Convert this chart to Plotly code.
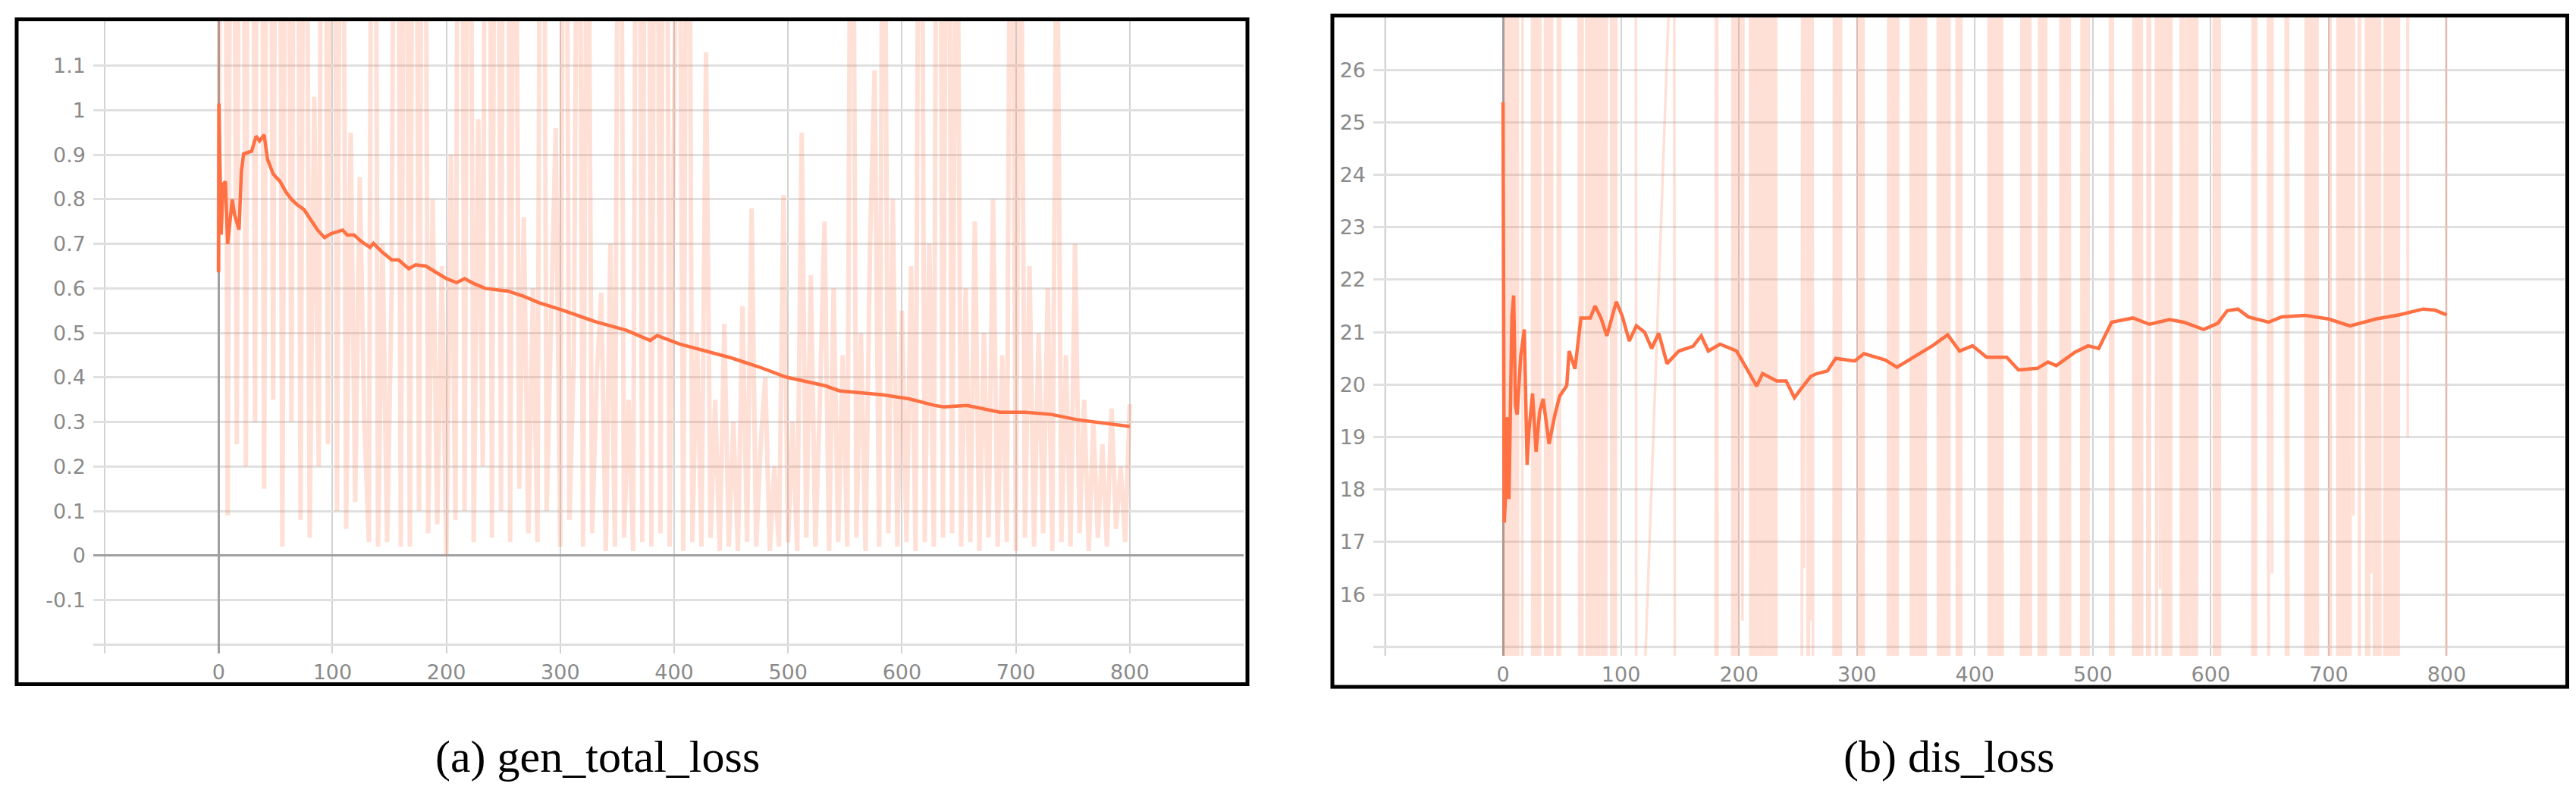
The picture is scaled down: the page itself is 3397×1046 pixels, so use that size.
import plotly.graph_objects as go

# ---- gen_total_loss (left panel) ----
# raw values, one reading every 4 steps (0 .. 800)
gen_raw = [
    0.64, 3.5, 0.09, 2.8, 0.25, 3.2, 0.2, 4.0, 0.3, 3.6,
    0.15, 2.9, 0.35, 3.3, 0.02, 2.5, 0.3, 3.0, 0.08, 2.6,
    0.04, 1.03, 0.2, 3.1, 0.25, 3.4, 0.1, 2.7, 0.06, 0.95,
    0.12, 0.85, 0.3, 0.03, 3.2, 0.02, 0.7, 0.03, 0.6, 3.0,
    0.02, 2.4, 0.02, 3.1, 0.1, 2.9, 0.05, 0.8, 0.07, 0.65,
    0.0, 0.9, 0.08, 3.3, 0.1, 2.5, 0.03, 0.98, 0.2, 3.5,
    0.04, 3.0, 0.1, 4.1, 0.03, 2.2, 0.15, 0.76, 0.05, 0.6,
    0.03, 3.0, 0.1, 0.5, 0.96, 0.02, 2.7, 0.08, 0.45, 2.2,
    0.02, 1.9, 0.05, 0.4, 0.59, 0.01, 0.7, 0.02, 2.6, 0.04,
    0.35, 0.01, 2.8, 0.03, 3.2, 0.02, 2.5, 0.05, 2.9, 0.02,
    1.06, 2.0, 0.01, 2.4, 0.03, 0.5, 0.02, 1.13, 0.04, 0.35,
    0.01, 0.52, 0.02, 0.3, 0.01, 0.56, 0.03, 0.78, 0.02, 0.25,
    0.4, 0.01, 0.2, 0.02, 0.81, 0.03, 0.3, 0.01, 0.95, 0.04,
    0.63, 0.02, 0.35, 0.75, 0.01, 0.6, 0.03, 0.45, 0.02, 2.3,
    0.04, 0.5, 0.01, 0.7, 1.09, 0.02, 2.1, 0.05, 0.8, 0.02,
    0.55, 0.03, 0.65, 0.01, 2.6, 0.03, 0.7, 0.02, 3.0, 0.04,
    2.4, 0.05, 1.9, 0.02, 0.6, 0.03, 0.75, 0.01, 0.5, 0.04,
    0.8, 0.02, 0.45, 0.03, 2.2, 0.01, 1.8, 0.04, 0.65, 0.02,
    0.5, 0.05, 0.6, 0.01, 1.6, 0.03, 0.45, 0.02, 0.7, 0.05,
    0.35, 0.01, 0.3, 0.04, 0.25, 0.02, 0.33, 0.06, 0.2, 0.03,
    0.34,
]
gen_raw_steps = list(range(0, 4 * len(gen_raw), 4))

gen_smooth_steps = [0, 0.3, 2.3, 4, 6, 8, 12, 14, 18, 20, 22, 29, 33, 36, 40, 43, 48, 54, 59, 64,
                    69, 75, 81, 87, 93, 99, 109, 113, 119, 125, 133, 136, 143, 152, 158, 167, 173,
                    182, 191, 200, 209, 216, 224, 234, 254, 268, 281, 302, 331, 358, 379, 385, 405,
                    426, 450, 474, 498, 533, 545, 583, 606, 629, 637, 657, 686, 708, 731, 754, 800]
gen_smooth = [0.636, 1.015, 0.721, 0.834, 0.84, 0.70, 0.80, 0.766, 0.732, 0.862, 0.902, 0.908,
              0.942, 0.931, 0.945, 0.890, 0.857, 0.840, 0.817, 0.800, 0.788, 0.777, 0.754, 0.731,
              0.714, 0.723, 0.731, 0.72, 0.72, 0.706, 0.692, 0.701, 0.683, 0.664, 0.664, 0.644,
              0.653, 0.650, 0.636, 0.622, 0.613, 0.622, 0.611, 0.600, 0.594, 0.582, 0.568, 0.551,
              0.525, 0.506, 0.483, 0.494, 0.475, 0.461, 0.444, 0.424, 0.401, 0.381, 0.370, 0.361,
              0.352, 0.337, 0.334, 0.337, 0.322, 0.322, 0.317, 0.305, 0.290]

# ---- dis_loss (right panel) ----
dis_raw_steps = [
    0, 1, 2, 3, 4, 5, 6, 7, 8, 9, 10, 11, 12, 13, 16, 17,
    24, 25, 26, 27, 28, 29, 30, 31, 32, 35, 36, 37, 38, 39, 40, 41, 42,
    46, 47, 48, 49, 63, 64, 65, 66, 67, 68,
    70, 71, 72, 73, 74, 75, 77, 78, 80, 81, 83, 84, 86, 87, 89,
    91, 92, 94, 95, 97, 112, 113, 145, 146, 180, 181, 182,
    194, 195, 196, 197, 199, 201, 203, 205, 209, 210, 211, 212, 213, 214, 215, 216, 217,
    218, 219, 220, 221, 222, 224, 225, 226, 227, 229, 230, 231, 232,
    253, 254, 255, 256, 259, 260, 261, 262, 263, 280, 281, 283, 284, 286, 287,
    300, 301, 302, 304, 305, 306, 326, 327, 328, 330, 331, 333, 334, 336,
    345, 346, 347, 349, 350, 352, 353, 355, 356, 358, 359,
    368, 369, 370, 372, 373, 375, 376, 378, 379, 384, 385, 387, 388, 389,
    411, 412, 413, 415, 416, 418, 419, 421, 422, 424,
    439, 440, 442, 443, 445, 446, 448, 454, 455, 457, 458, 460, 461,
    472, 473, 474, 476, 477, 479, 480, 481, 490, 491, 493, 494, 496, 497,
    514, 515, 516, 518, 534, 535, 536, 538, 539, 541, 542, 546, 547, 548, 549,
    553, 554, 555, 557, 558, 560, 561, 563, 564, 566, 567, 574, 575, 576, 578,
    579, 580, 582, 583, 585, 586, 588, 589, 602, 603, 604, 606, 607, 608,
    635, 636, 638, 639, 648, 649, 650, 652, 653, 663, 664, 665, 666,
    680, 681, 682, 684, 685, 687, 688, 690, 691, 700, 701, 702,
    707, 708, 709, 711, 712, 714, 715, 717, 718, 720, 721, 722, 725, 726, 727,
    731, 732, 733, 734, 735, 736, 737, 739, 740, 742, 743, 744,
    747, 748, 750, 751, 753, 754, 756, 757, 759, 760, 766, 767, 768, 799, 800,
]
dis_raw = [
    25.4, 4, 46, 7, 52, 3, 49, 5, 55, 2, 44, 6, 51, 3, 5, 48,
    57, 2, 50, 4, 47, 6, 53, 3, 45, 60, 4, 49, 2, 46, 5, 52, 3,
    6, 50, 4, 54, 58, 25.3, 3, 47, 5, 51,
    60, 5, 48, 3, 45, 6, 52, 2, 49, 4, 56, 3, 47, 5, 53,
    58, 4, 50, 3, 46, 52, 10, 30, 3, 4, 50, 3,
    5, 47, 3, 52, 4, 49, 15.5, 46, 44, 3, 50, 2, 47, 4, 53, 2, 45,
    6, 51, 3, 48, 5, 55, 2, 46, 4, 50, 3, 47, 5,
    4, 48, 16.5, 50, 3, 46, 15.5, 52, 3, 5, 47, 2, 51, 4, 49,
    55, 3, 48, 5, 50, 2, 4, 46, 3, 52, 6, 47, 2, 50,
    57, 4, 48, 3, 53, 5, 45, 2, 49, 4, 51,
    56, 3, 47, 5, 50, 2, 48, 4, 52, 55, 3, 49, 5, 46,
    58, 4, 47, 3, 51, 6, 45, 2, 50, 4,
    3, 48, 5, 52, 2, 47, 4, 5, 50, 3, 46, 6, 53,
    57, 4, 48, 2, 51, 5, 45, 3, 4, 49, 6, 47, 2, 52,
    56, 3, 48, 5, 4, 50, 3, 47, 6, 52, 2, 5, 49, 3, 51,
    55, 4, 47, 16.1, 50, 3, 48, 5, 52, 2, 46, 53, 4, 49, 3,
    5, 47, 2, 51, 6, 48, 3, 50, 55, 4, 47, 2, 52, 5,
    3, 49, 4, 46, 52, 3, 50, 16.4, 48, 54, 2, 47, 5,
    4, 51, 3, 48, 6, 53, 2, 46, 4, 5, 49, 3,
    4, 50, 2, 47, 5, 52, 3, 48, 6, 51, 17.5, 49, 48, 4, 50,
    53, 3, 47, 5, 50, 16.4, 48, 2, 51, 4, 46, 3,
    5, 49, 2, 52, 4, 47, 6, 50, 3, 48, 52, 19.0, 55, 54, 3,
]

dis_smooth_steps = [0, 1, 2, 3.5, 5, 7.5, 9, 10.5, 12, 15, 18, 20.4, 22, 25, 28, 31, 34, 39, 44,
                    48, 54, 56, 61, 66, 74, 78, 83, 88, 96, 101, 107, 113, 120, 126, 132, 139,
                    149, 161, 168, 174, 184, 198, 209, 215, 220, 232, 240, 247, 252, 261, 266,
                    275, 282, 298, 306, 324, 334, 350, 364, 377, 387, 398, 410, 427, 437, 453,
                    462, 469, 485, 496, 505, 516, 534, 548, 565, 577, 594, 606, 614, 623, 632,
                    649, 660, 680, 700, 718, 740, 760, 780, 790, 800]
dis_smooth = [25.38, 17.37, 17.82, 19.38, 17.82, 21.3, 21.7, 19.6, 19.43, 20.55, 21.05, 18.47,
              19.13, 19.83, 18.72, 19.48, 19.73, 18.87, 19.43, 19.78, 19.98, 20.64, 20.30, 21.27,
              21.27, 21.5, 21.27, 20.93, 21.58, 21.31, 20.83, 21.12, 21.0, 20.69, 20.98, 20.40,
              20.64, 20.73, 20.93, 20.64, 20.77, 20.64, 20.21, 19.97, 20.21, 20.07, 20.07, 19.75,
              19.9, 20.16, 20.21, 20.26, 20.50, 20.45, 20.59, 20.47, 20.33, 20.55, 20.74, 20.95,
              20.64, 20.74, 20.52, 20.52, 20.28, 20.31, 20.43, 20.36, 20.62, 20.74, 20.69, 21.19,
              21.27, 21.15, 21.24, 21.19, 21.05, 21.17, 21.41, 21.44, 21.29, 21.19, 21.29, 21.32,
              21.25, 21.12, 21.25, 21.33, 21.44, 21.42, 21.33]

# ---- ticks ----
x_ticks = [-100, 0, 100, 200, 300, 400, 500, 600, 700, 800]
x_labels = ["", "0", "100", "200", "300", "400", "500", "600", "700", "800"]
gen_y_ticks = [-0.2, -0.1, 0, 0.1, 0.2, 0.3, 0.4, 0.5, 0.6, 0.7, 0.8, 0.9, 1, 1.1]
gen_y_labels = ["", "-0.1", "0", "0.1", "0.2", "0.3", "0.4", "0.5", "0.6", "0.7", "0.8", "0.9", "1", "1.1"]
dis_y_ticks = [15, 16, 17, 18, 19, 20, 21, 22, 23, 24, 25, 26]
dis_y_labels = ["", "16", "17", "18", "19", "20", "21", "22", "23", "24", "25", "26"]

captions = ["(a) gen_total_loss", "(b) dis_loss"]

W, H = 3397, 1046
RAW = "rgba(255,112,67,0.22)"
SMOOTH = "#ff7043"
VGRID = "#d3d3d3"
HGRID = "#e0e0e0"

fig = go.Figure()
fig.add_trace(go.Scatter(x=gen_raw_steps, y=gen_raw, mode="lines",
                         line=dict(color=RAW, width=6), xaxis="x", yaxis="y", showlegend=False))
fig.add_trace(go.Scatter(x=gen_smooth_steps, y=gen_smooth, mode="lines",
                         line=dict(color=SMOOTH, width=4.5), xaxis="x", yaxis="y", showlegend=False))
fig.add_trace(go.Scatter(x=dis_raw_steps, y=dis_raw, mode="lines",
                         line=dict(color=RAW, width=3.5), xaxis="x2", yaxis="y2", showlegend=False))
fig.add_trace(go.Scatter(x=dis_smooth_steps, y=dis_smooth, mode="lines",
                         line=dict(color=SMOOTH, width=4.5), xaxis="x2", yaxis="y2", showlegend=False))

tick_font = dict(family="DejaVu Sans", size=27, color="#8a8a8a")

# the axes run a little past the last gridline so the edge gridlines get tick stubs
def xax(domain, anchor):
    return dict(domain=domain, anchor=anchor, range=[-110, 900], tickvals=x_ticks, ticktext=x_labels,
                showgrid=True, gridcolor=VGRID, gridwidth=2,
                zeroline=True, zerolinecolor="#a0a0a0", zerolinewidth=3,
                ticks="", ticklabelstandoff=6, tickfont=tick_font, showline=False, fixedrange=True)

def yax(domain, anchor, rng, vals, labels):
    return dict(domain=domain, anchor=anchor, range=rng, tickvals=vals, ticktext=labels,
                showgrid=True, gridcolor=HGRID, gridwidth=3,
                zeroline=True, zerolinecolor="#a0a0a0", zerolinewidth=3,
                ticks="", ticklabelstandoff=9, tickfont=tick_font, showline=False, fixedrange=True)

fig.update_layout(
    width=W, height=H, autosize=False,
    margin=dict(l=0, r=0, t=0, b=0),
    paper_bgcolor="white", plot_bgcolor="white",
    xaxis=xax([115 / W, 1632 / W], "y"),
    yaxis=yax([1 - 854 / H, 1 - 20 / H], "x", [-0.22, 1.2], gen_y_ticks, gen_y_labels),
    xaxis2=xax([1803 / W, 3374 / W], "y2"),
    yaxis2=yax([1 - 857 / H, 1 - 15 / H], "x2", [14.83, 27], dis_y_ticks, dis_y_labels),
)

# unlabeled edge gridlines (left at step -100, bottom of each value range)
for xr, yr, ybot, ytop in [("x", "y", -0.22, 1.2), ("x2", "y2", 14.83, 27)]:
    fig.add_shape(type="line", xref=xr, yref=yr, x0=x_ticks[0], x1=x_ticks[0], y0=ybot, y1=ytop,
                  line=dict(color=VGRID, width=2), layer="below")
for xr, yr, yv in [("x", "y", gen_y_ticks[0]), ("x2", "y2", dis_y_ticks[0])]:
    fig.add_shape(type="line", xref=xr, yref=yr, x0=-110, x1=900, y0=yv, y1=yv,
                  line=dict(color=HGRID, width=3), layer="below")

# black frames round each panel
fig.add_shape(type="rect", xref="paper", yref="paper",
              x0=14 / W, x1=1637 / W, y0=1 - 894.5 / H, y1=1 - 17.5 / H,
              line=dict(color="black", width=5))
fig.add_shape(type="rect", xref="paper", yref="paper",
              x0=1749 / W, x1=3377.5 / W, y0=1 - 898 / H, y1=1 - 12.5 / H,
              line=dict(color="black", width=5))

# captions
for cx, text in zip([780, 2562], captions):
    fig.add_annotation(x=cx / W, y=1 - 990 / H, xref="paper", yref="paper", text=text,
                       showarrow=False, xanchor="center", yanchor="middle",
                       font=dict(family="Liberation Serif", size=60, color="black"))

fig.write_html("out.html")
